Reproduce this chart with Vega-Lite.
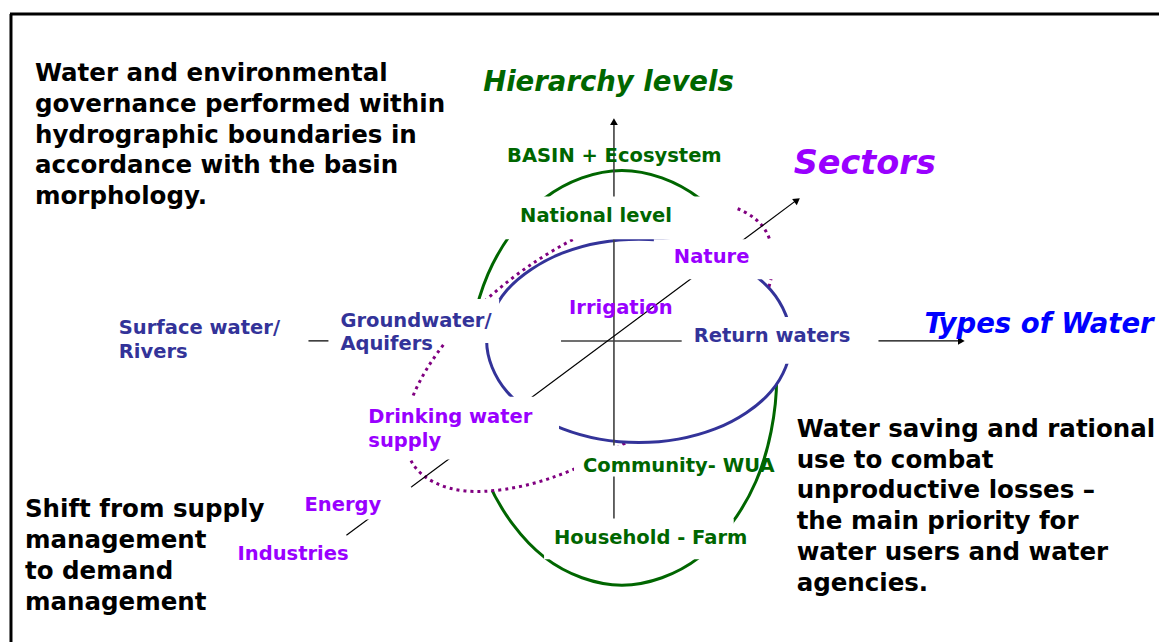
{
  "$schema": "https://vega.github.io/schema/vega-lite/v6.json",
  "width": 1161,
  "height": 644,
  "autosize": {"type": "fit", "contains": "padding"},
  "padding": 0,
  "background": "white",
  "config": {"view": {"stroke": null}},
  "datasets": {
    "frame": [
      {"x": 10, "y": 14, "x2": 1161, "y2": 14},
      {"x": 11, "y": 14, "x2": 11, "y2": 644}
    ],
    "waterAxis": [{"x": 309, "y": 342, "x2": 962, "y2": 342}],
    "green": [
      {"i": 0, "x": 778, "y": 379}, {"i": 1, "x": 757.2, "y": 483}, {"i": 2, "x": 700.5, "y": 559.1},
      {"i": 3, "x": 623, "y": 587}, {"i": 4, "x": 545.5, "y": 559.1}, {"i": 5, "x": 488.8, "y": 483},
      {"i": 6, "x": 468, "y": 379}, {"i": 7, "x": 488.8, "y": 275}, {"i": 8, "x": 545.5, "y": 198.9},
      {"i": 9, "x": 623, "y": 171}, {"i": 10, "x": 700.5, "y": 198.9}, {"i": 11, "x": 757.2, "y": 275}
    ],
    "dotted": [
      {"i": 0, "x": 765.7, "y": 229.5}, {"i": 1, "x": 770.4, "y": 287.3}, {"i": 2, "x": 726.8, "y": 361.2},
      {"i": 3, "x": 646.5, "y": 431.7}, {"i": 4, "x": 551.0, "y": 479.8}, {"i": 5, "x": 466.0, "y": 492.5},
      {"i": 6, "x": 414.3, "y": 466.5}, {"i": 7, "x": 409.6, "y": 408.7}, {"i": 8, "x": 453.2, "y": 334.8},
      {"i": 9, "x": 533.5, "y": 264.3}, {"i": 10, "x": 629.0, "y": 216.2}, {"i": 11, "x": 714.0, "y": 203.5}
    ],
    "blue": [
      {"i": 0, "x": 792.5, "y": 342}, {"i": 1, "x": 772.1, "y": 393}, {"i": 2, "x": 716.3, "y": 430.3},
      {"i": 3, "x": 640, "y": 444}, {"i": 4, "x": 563.8, "y": 430.3}, {"i": 5, "x": 507.9, "y": 393},
      {"i": 6, "x": 487.5, "y": 342}, {"i": 7, "x": 507.9, "y": 291}, {"i": 8, "x": 563.8, "y": 253.7},
      {"i": 9, "x": 640, "y": 240}, {"i": 10, "x": 716.3, "y": 253.7}, {"i": 11, "x": 772.1, "y": 291}
    ],
    "cross": [
      {"x": 615, "y": 122, "x2": 615, "y2": 530},
      {"x": 562, "y": 342, "x2": 683, "y2": 342}
    ],
    "diagonal": [{"x": 347, "y": 537, "x2": 799, "y2": 200}],
    "headUp": [{"x": 615, "y": 122}],
    "headRight": [{"x": 963, "y": 342}],
    "headDiag": [{"x": 798.5, "y": 200.8}],
    "boxes": [
      {"name": "National level", "x": 495, "x2": 738, "y": 197, "y2": 240},
      {"name": "Nature", "x": 655, "x2": 781, "y": 240, "y2": 280},
      {"name": "Groundwater", "x": 329, "x2": 500, "y": 300, "y2": 344},
      {"name": "Return waters", "x": 683, "x2": 880, "y": 318, "y2": 365},
      {"name": "Drinking water", "x": 360, "x2": 560, "y": 398, "y2": 461},
      {"name": "Community", "x": 575, "x2": 750, "y": 447, "y2": 478},
      {"name": "Household", "x": 545, "x2": 735, "y": 520, "y2": 561},
      {"name": "Energy", "x": 300, "x2": 412, "y": 488, "y2": 521}
    ],
    "texts": [
      {"kind": "body", "group": "black", "text": "Water and environmental", "x": 35, "y": 74},
      {"kind": "body", "group": "black", "text": "governance performed within", "x": 35, "y": 105},
      {"kind": "body", "group": "black", "text": "hydrographic boundaries in", "x": 35, "y": 136},
      {"kind": "body", "group": "black", "text": "accordance with the basin", "x": 35, "y": 167},
      {"kind": "body", "group": "black", "text": "morphology.", "x": 35, "y": 198},
      {"kind": "body", "group": "black", "text": "Water saving and rational", "x": 798, "y": 431},
      {"kind": "body", "group": "black", "text": "use to combat", "x": 798, "y": 462},
      {"kind": "body", "group": "black", "text": "unproductive losses –", "x": 798, "y": 493},
      {"kind": "body", "group": "black", "text": "the main priority for", "x": 798, "y": 524},
      {"kind": "body", "group": "black", "text": "water users and water", "x": 798, "y": 555},
      {"kind": "body", "group": "black", "text": "agencies.", "x": 798, "y": 586},
      {"kind": "body", "group": "black", "text": "Shift from supply", "x": 25, "y": 512},
      {"kind": "body", "group": "black", "text": "management", "x": 25, "y": 543},
      {"kind": "body", "group": "black", "text": "to demand", "x": 25, "y": 574},
      {"kind": "body", "group": "black", "text": "management", "x": 25, "y": 605},
      {"kind": "label", "group": "hierarchy", "text": "BASIN + Ecosystem", "x": 508, "y": 156},
      {"kind": "label", "group": "hierarchy", "text": "National level", "x": 521, "y": 217},
      {"kind": "label", "group": "hierarchy", "text": "Community- WUA", "x": 584, "y": 467},
      {"kind": "label", "group": "hierarchy", "text": "Household - Farm", "x": 555, "y": 540},
      {"kind": "label", "group": "water", "text": "Surface water/", "x": 119, "y": 329},
      {"kind": "label", "group": "water", "text": "Rivers", "x": 119, "y": 353},
      {"kind": "label", "group": "water", "text": "Groundwater/", "x": 341, "y": 322},
      {"kind": "label", "group": "water", "text": "Aquifers", "x": 341, "y": 345},
      {"kind": "label", "group": "water", "text": "Return waters", "x": 695, "y": 337},
      {"kind": "label", "group": "sector", "text": "Nature", "x": 675, "y": 258},
      {"kind": "label", "group": "sector", "text": "Irrigation", "x": 570, "y": 309},
      {"kind": "label", "group": "sector", "text": "Drinking water", "x": 369, "y": 418},
      {"kind": "label", "group": "sector", "text": "supply", "x": 369, "y": 442},
      {"kind": "label", "group": "sector", "text": "Energy", "x": 305, "y": 507},
      {"kind": "label", "group": "sector", "text": "Industries", "x": 238, "y": 556},
      {"kind": "title", "group": "hierarchy", "text": "Hierarchy levels", "x": 484, "y": 83},
      {"kind": "title", "group": "waterTitle", "text": "Types of Water", "x": 926, "y": 326},
      {"kind": "bigtitle", "group": "sector", "text": "Sectors", "x": 795, "y": 165}
    ]
  },
  "encoding": {
    "x": {"field": "x", "type": "quantitative", "scale": {"domain": [0, 1161], "nice": false, "zero": false}, "axis": null},
    "y": {"field": "y", "type": "quantitative", "scale": {"domain": [0, 644], "nice": false, "zero": false, "reverse": true}, "axis": null}
  },
  "layer": [
    {
      "data": {"name": "frame"},
      "mark": {"type": "rule", "stroke": "black", "strokeWidth": 3},
      "encoding": {"x2": {"field": "x2"}, "y2": {"field": "y2"}}
    },
    {
      "data": {"name": "waterAxis"},
      "mark": {"type": "rule", "stroke": "black", "strokeWidth": 1.2},
      "encoding": {"x2": {"field": "x2"}, "y2": {"field": "y2"}}
    },
    {
      "data": {"name": "green"},
      "mark": {"type": "line", "interpolate": "cardinal-closed", "stroke": "#006600", "strokeWidth": 3},
      "encoding": {"order": {"field": "i", "type": "quantitative"}}
    },
    {
      "data": {"name": "dotted"},
      "mark": {"type": "line", "interpolate": "cardinal-closed", "stroke": "#800080", "fill": "white", "strokeWidth": 3, "strokeDash": [3, 4]},
      "encoding": {"order": {"field": "i", "type": "quantitative"}}
    },
    {
      "data": {"name": "blue"},
      "mark": {"type": "line", "interpolate": "cardinal-closed", "stroke": "#333399", "fill": "white", "strokeWidth": 3},
      "encoding": {"order": {"field": "i", "type": "quantitative"}}
    },
    {
      "data": {"name": "cross"},
      "mark": {"type": "rule", "stroke": "#404040", "strokeWidth": 1.6},
      "encoding": {"x2": {"field": "x2"}, "y2": {"field": "y2"}}
    },
    {
      "data": {"name": "diagonal"},
      "mark": {"type": "rule", "stroke": "black", "strokeWidth": 1.2},
      "encoding": {"x2": {"field": "x2"}, "y2": {"field": "y2"}}
    },
    {
      "data": {"name": "headUp"},
      "mark": {"type": "point", "shape": "triangle-up", "filled": true, "color": "black", "opacity": 1, "size": 60}
    },
    {
      "data": {"name": "headRight"},
      "mark": {"type": "point", "shape": "triangle-right", "filled": true, "color": "black", "opacity": 1, "size": 60}
    },
    {
      "data": {"name": "headDiag"},
      "mark": {"type": "point", "shape": "triangle-up", "angle": 53.3, "filled": true, "color": "black", "opacity": 1, "size": 60}
    },
    {
      "data": {"name": "boxes"},
      "mark": {"type": "rect", "fill": "white", "strokeWidth": 0},
      "encoding": {"x2": {"field": "x2"}, "y2": {"field": "y2"}}
    },
    {
      "data": {"name": "texts"},
      "transform": [{"filter": "datum.kind === 'body'"}],
      "mark": {"type": "text", "font": "DejaVu Sans", "fontWeight": "bold", "fontSize": 24.5, "align": "left", "baseline": "middle"},
      "encoding": {
        "text": {"field": "text"},
        "color": {"field": "group", "type": "nominal", "legend": null,
          "scale": {"domain": ["black", "hierarchy", "water", "sector", "waterTitle"], "range": ["#000000", "#006600", "#333399", "#9900FF", "#0000FF"]}}
      }
    },
    {
      "data": {"name": "texts"},
      "transform": [{"filter": "datum.kind === 'label'"}],
      "mark": {"type": "text", "font": "DejaVu Sans", "fontWeight": "bold", "fontSize": 19.5, "align": "left", "baseline": "middle"},
      "encoding": {
        "text": {"field": "text"},
        "color": {"field": "group", "type": "nominal", "legend": null,
          "scale": {"domain": ["black", "hierarchy", "water", "sector", "waterTitle"], "range": ["#000000", "#006600", "#333399", "#9900FF", "#0000FF"]}}
      }
    },
    {
      "data": {"name": "texts"},
      "transform": [{"filter": "datum.kind === 'title'"}],
      "mark": {"type": "text", "font": "DejaVu Sans", "fontWeight": "bold", "fontStyle": "italic", "fontSize": 27.5, "align": "left", "baseline": "middle"},
      "encoding": {
        "text": {"field": "text"},
        "color": {"field": "group", "type": "nominal", "legend": null,
          "scale": {"domain": ["black", "hierarchy", "water", "sector", "waterTitle"], "range": ["#000000", "#006600", "#333399", "#9900FF", "#0000FF"]}}
      }
    },
    {
      "data": {"name": "texts"},
      "transform": [{"filter": "datum.kind === 'bigtitle'"}],
      "mark": {"type": "text", "font": "DejaVu Sans", "fontWeight": "bold", "fontStyle": "italic", "fontSize": 33.5, "align": "left", "baseline": "middle"},
      "encoding": {
        "text": {"field": "text"},
        "color": {"field": "group", "type": "nominal", "legend": null,
          "scale": {"domain": ["black", "hierarchy", "water", "sector", "waterTitle"], "range": ["#000000", "#006600", "#333399", "#9900FF", "#0000FF"]}}
      }
    }
  ]
}
